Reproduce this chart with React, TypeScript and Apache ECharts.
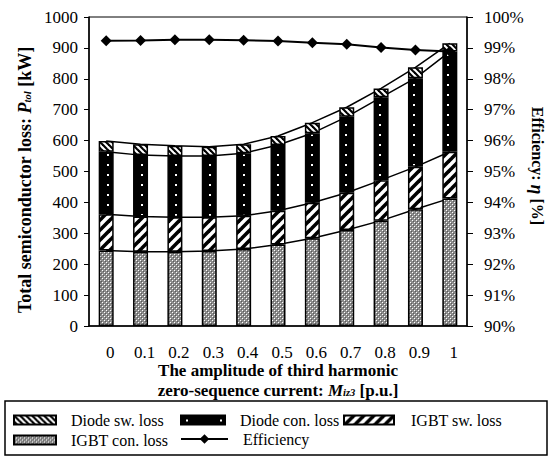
import React, { useEffect, useRef } from "react";
import * as echarts from "echarts";

const categories = ["0", "0.1", "0.2", "0.3", "0.4", "0.5", "0.6", "0.7", "0.8", "0.9", "1"];
const igbtCon = [244, 240, 240, 243, 249, 264, 284, 311, 341, 378, 413];
const igbtSw = [118, 114, 112, 109, 108, 109, 115, 120, 131, 137, 151];
const diodeCon = [202, 199, 198, 198, 202, 213, 225, 246, 268, 287, 324];
const diodeSw = [35, 35, 33, 30, 29, 29, 34, 31, 29, 35, 27];
const efficiency = [99.23, 99.24, 99.26, 99.26, 99.25, 99.22, 99.17, 99.12, 99.01, 98.93, 98.88];

const FONT = "Liberation Serif";

function tile(w: number, h: number, draw: (c: CanvasRenderingContext2D) => void) {
  const c = document.createElement("canvas");
  c.width = w;
  c.height = h;
  const ctx = c.getContext("2d") as CanvasRenderingContext2D;
  draw(ctx);
  return c;
}

function makePatterns() {
  const gray = tile(4, 4, (c) => {
    c.fillStyle = "#8c8c8c";
    c.fillRect(0, 0, 4, 4);
    c.fillStyle = "#ffffff";
    c.fillRect(0, 0, 1, 1);
    c.fillRect(2, 2, 1, 1);
    c.fillStyle = "#5a5a5a";
    c.fillRect(1, 1, 1, 1);
    c.fillRect(3, 3, 1, 1);
  });
  const slashThick = tile(10, 10, (c) => {
    c.fillStyle = "#ffffff";
    c.fillRect(0, 0, 10, 10);
    c.strokeStyle = "#000";
    c.lineWidth = 3.6;
    for (const o of [-10, 0, 10]) {
      c.beginPath();
      c.moveTo(o - 2, 12);
      c.lineTo(o + 12, -2);
      c.stroke();
    }
  });
  const backThin = tile(6, 6, (c) => {
    c.fillStyle = "#ffffff";
    c.fillRect(0, 0, 6, 6);
    c.strokeStyle = "#000";
    c.lineWidth = 2.2;
    for (const o of [-6, 0, 6]) {
      c.beginPath();
      c.moveTo(o - 2, -2);
      c.lineTo(o + 8, 8);
      c.stroke();
    }
  });
  const dots = tile(34, 10, (c) => {
    c.fillStyle = "#000";
    c.fillRect(0, 0, 34, 10);
    c.fillStyle = "#ffffff";
    c.fillRect(5, 4, 2, 2);
  });
  return {
    gray: { image: gray, repeat: "repeat", imageWidth: 4, imageHeight: 4 },
    slash: { image: slashThick, repeat: "repeat", imageWidth: 10, imageHeight: 10 },
    back: { image: backThin, repeat: "repeat", imageWidth: 6, imageHeight: 6 },
    dots: { image: dots, repeat: "repeat", imageWidth: 34, imageHeight: 10 },
  };
}

export default function App() {
  const ref = useRef<HTMLDivElement>(null);
  useEffect(() => {
    if (!ref.current) return;
    const chart = echarts.init(ref.current, undefined, { renderer: "svg" });
    const p = makePatterns();

    const cum1 = igbtCon.slice();
    const cum2 = cum1.map((v, i) => v + igbtSw[i]);
    const cum3 = cum2.map((v, i) => v + diodeCon[i]);
    const cum4 = cum3.map((v, i) => v + diodeSw[i]);

    const barCommon = { type: "bar", stack: "loss", barWidth: 15, z: 2 };
    const border = { borderColor: "#000", borderWidth: 1.5 };
    const seriesLine = (data: number[]) => ({
      type: "line",
      data,
      symbol: "none",
      silent: true,
      z: 1,
      lineStyle: { color: "#000", width: 1.5 },
    });

    const textStyle = { fontFamily: FONT, fontSize: 17, color: "#000", fontWeight: "normal" };
    const legendText = { fontFamily: FONT, fontSize: 16, color: "#000", fontWeight: "normal" };
    const legendBase = {
      itemHeight: 9,
      itemWidth: 42,
      icon: "rect",
      selectedMode: false,
      padding: 0,
      textStyle: { ...legendText, padding: [0, 0, 0, 10] },
    };

    const richTitle = (size: number) => ({
      i: { fontFamily: FONT, fontSize: size, fontWeight: "bold", fontStyle: "italic", fill: "#000", lineHeight: 15 },
      s: { fontFamily: FONT, fontSize: 10.5, fontWeight: "bold", fontStyle: "italic", fill: "#000", lineHeight: 8, verticalAlign: "bottom" },
    });

    chart.setOption({
      animation: false,
      backgroundColor: "#fff",
      textStyle: { fontFamily: FONT },
      grid: { left: 89, right: 83, top: 17, bottom: 137, show: true, borderColor: "#000", borderWidth: 1 },
      xAxis: {
        type: "category",
        data: categories,
        axisLine: { lineStyle: { color: "#000", width: 1.5 } },
        axisTick: { length: 5, lineStyle: { color: "#000", width: 1 } },
        axisLabel: { ...textStyle, margin: 18, padding: [0, 0, 0, 8] },
      },
      yAxis: [
        {
          type: "value",
          min: 0,
          max: 1000,
          interval: 100,
          splitLine: { show: false },
          axisLine: { show: true, lineStyle: { color: "#000", width: 1.5 } },
          axisTick: { show: true, length: 5, lineStyle: { color: "#000", width: 1 } },
          axisLabel: { ...textStyle, margin: 11, formatter: (v: number) => String(v) },
        },
        {
          type: "value",
          min: 90,
          max: 100,
          interval: 1,
          position: "right",
          splitLine: { show: false },
          axisLine: { show: true, lineStyle: { color: "#000", width: 1.5 } },
          axisTick: { show: true, length: 6, lineStyle: { color: "#000", width: 1 } },
          axisLabel: { ...textStyle, margin: 17, formatter: (v: number) => v + "%" },
        },
      ],
      legend: [
        { ...legendBase, data: ["Diode sw. loss"], left: 13, top: 412 },
        { ...legendBase, data: ["Diode con. loss"], left: 180, top: 412, itemWidth: 44 },
        { ...legendBase, data: ["IGBT sw. loss"], left: 343, top: 412, itemWidth: 50, textStyle: { ...legendText, padding: [0, 0, 0, 12] } },
        { ...legendBase, data: ["IGBT con. loss"], left: 13, top: 432 },
        { ...legendBase, icon: undefined, data: ["Efficiency"], left: 180, top: 431, itemWidth: 47, itemHeight: 12 },
      ],
      graphic: [
        { type: "rect", shape: { x: 5, y: 401, width: 542, height: 54 }, style: { fill: "none", stroke: "#000", lineWidth: 1.5 }, z: 0 },
        {
          type: "text",
          x: 278,
          y: 370,
          style: { text: "The amplitude of third harmonic", fontFamily: FONT, fontSize: 17, fontWeight: "bold", fill: "#000", lineHeight: 15, align: "center", verticalAlign: "middle" },
        },
        {
          type: "text",
          x: 278,
          y: 390,
          style: {
            text: "zero-sequence current: {i|M}{s|iz3} [p.u.]",
            fontFamily: FONT, fontSize: 17, fontWeight: "bold", fill: "#000", lineHeight: 15,
            align: "center", verticalAlign: "middle", rich: richTitle(17),
          },
        },
        {
          type: "text",
          x: 25,
          y: 180,
          rotation: Math.PI / 2,
          style: {
            text: "Total semiconductor loss: {i|P}{s|tol} [kW]",
            fontFamily: FONT, fontSize: 18, fontWeight: "bold", fill: "#000", lineHeight: 16,
            align: "center", verticalAlign: "middle", rich: richTitle(18),
          },
        },
        {
          type: "text",
          x: 537,
          y: 166,
          rotation: -Math.PI / 2,
          style: {
            text: "Efficiency: {i|η} [%]",
            fontFamily: FONT, fontSize: 16, fontWeight: "bold", fill: "#000", lineHeight: 16,
            align: "center", verticalAlign: "middle", rich: richTitle(18),
          },
        },
      ],
      series: [
        seriesLine(cum1),
        seriesLine(cum2),
        seriesLine(cum3),
        seriesLine(cum4),
        { ...barCommon, name: "IGBT con. loss", data: igbtCon, itemStyle: { color: p.gray, ...border } },
        { ...barCommon, name: "IGBT sw. loss", data: igbtSw, itemStyle: { color: p.slash, ...border } },
        { ...barCommon, name: "Diode con. loss", data: diodeCon, itemStyle: { color: p.dots, ...border } },
        { ...barCommon, name: "Diode sw. loss", data: diodeSw, itemStyle: { color: p.back, ...border } },
        {
          type: "line",
          name: "Efficiency",
          yAxisIndex: 1,
          data: efficiency,
          symbol: "diamond",
          symbolSize: 11,
          z: 5,
          itemStyle: { color: "#000" },
          lineStyle: { color: "#000", width: 2 },
        },
      ],
    });
    return () => chart.dispose();
  }, []);
  return <div ref={ref} style={{ position: "absolute", left: 0, top: 0, width: 550, height: 463 }} />;
}
